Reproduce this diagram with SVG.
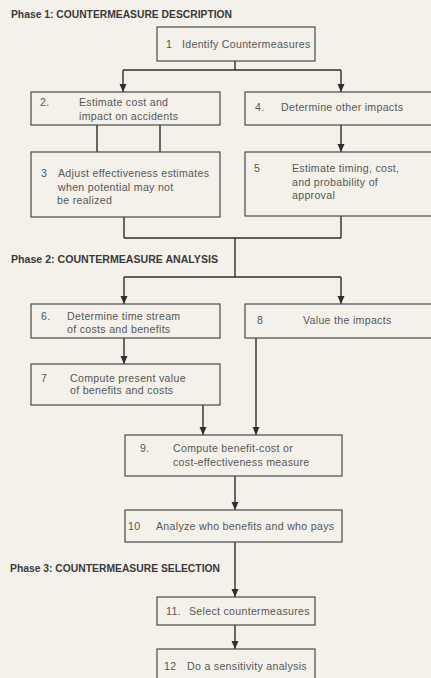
<svg xmlns="http://www.w3.org/2000/svg" width="431" height="678" viewBox="0 0 431 678">
<defs>
<marker id="ah" viewBox="0 0 8 10" refX="8" refY="5" markerWidth="8" markerHeight="10" markerUnits="userSpaceOnUse" orient="auto">
<path d="M0,1.5 L8,5 L0,8.5 Z" fill="#2e2e2e"/>
</marker>
<style>
.bg{fill:#f3f1ea}
.box{fill:none;stroke:#4a4a4a;stroke-width:1.2}
.ln{fill:none;stroke:#2e2e2e;stroke-width:1.4}
.t{font-family:"Liberation Sans",Arial,sans-serif;font-size:10.6px;letter-spacing:0.3px;fill:#575757}
.ph{font-family:"Liberation Sans",Arial,sans-serif;font-size:10px;font-weight:bold;fill:#3a3a3a}
</style>
</defs>
<rect class="bg" x="0" y="0" width="431" height="678"/>

<g id="labels">
<text class="ph" x="11" y="18" textLength="221" lengthAdjust="spacingAndGlyphs">Phase 1: COUNTERMEASURE DESCRIPTION</text>
<text class="ph" x="11" y="263" textLength="207" lengthAdjust="spacingAndGlyphs">Phase 2:  COUNTERMEASURE ANALYSIS</text>
<text class="ph" x="10" y="572" textLength="210" lengthAdjust="spacingAndGlyphs">Phase 3: COUNTERMEASURE SELECTION</text>
</g>

<g id="connectors">
<path class="ln" d="M235,61 V70 M123,70 H341"/>
<path class="ln" d="M123,70 V92" marker-end="url(#ah)"/>
<path class="ln" d="M341,70 V92" marker-end="url(#ah)"/>
<path class="ln" d="M97,125 V152 M160,125 V152"/>
<path class="ln" d="M341,125 V152" marker-end="url(#ah)"/>
<path class="ln" d="M124,217 V238 M341,216 V238 M124,238 H341 M235,238 V277 M124,277 H341"/>
<path class="ln" d="M124,277 V304" marker-end="url(#ah)"/>
<path class="ln" d="M341,277 V304" marker-end="url(#ah)"/>
<path class="ln" d="M124,338 V364" marker-end="url(#ah)"/>
<path class="ln" d="M203,405 V435" marker-end="url(#ah)"/>
<path class="ln" d="M256,338 V435" marker-end="url(#ah)"/>
<path class="ln" d="M235,476 V510" marker-end="url(#ah)"/>
<path class="ln" d="M235,542 V597" marker-end="url(#ah)"/>
<path class="ln" d="M235,625 V649" marker-end="url(#ah)"/>
</g>

<g id="n1">
<rect class="box" x="157" y="27" width="158" height="34"/>
<text class="t" y="47.5"><tspan x="166">1</tspan><tspan x="182">Identify Countermeasures</tspan></text>
</g>
<g id="n2">
<rect class="box" x="31" y="92" width="189" height="33"/>
<text class="t" y="105.5"><tspan x="40">2.</tspan><tspan x="79">Estimate cost and</tspan></text>
<text class="t" x="79" y="120">impact on accidents</text>
</g>
<g id="n4">
<rect class="box" x="245" y="92" width="200" height="33"/>
<text class="t" y="111"><tspan x="255">4.</tspan><tspan x="281">Determine other impacts</tspan></text>
</g>
<g id="n3">
<rect class="box" x="31" y="152" width="189" height="65"/>
<text class="t" y="177"><tspan x="41">3</tspan><tspan x="58">Adjust effectiveness estimates</tspan></text>
<text class="t" x="58" y="191">when potential may not</text>
<text class="t" x="57" y="204">be realized</text>
</g>
<g id="n5">
<rect class="box" x="245" y="152" width="200" height="64"/>
<text class="t" y="172"><tspan x="254">5</tspan><tspan x="292">Estimate timing, cost,</tspan></text>
<text class="t" x="292" y="186">and probability of</text>
<text class="t" x="292" y="199">approval</text>
</g>
<g id="n6">
<rect class="box" x="31" y="304" width="189" height="34"/>
<text class="t" y="320"><tspan x="41">6.</tspan><tspan x="67">Determine time stream</tspan></text>
<text class="t" x="67" y="333">of costs and benefits</text>
</g>
<g id="n8">
<rect class="box" x="245" y="304" width="200" height="34"/>
<text class="t" y="324"><tspan x="257">8</tspan><tspan x="303">Value the impacts</tspan></text>
</g>
<g id="n7">
<rect class="box" x="31" y="364" width="189" height="41"/>
<text class="t" y="382"><tspan x="41">7</tspan><tspan x="70">Compute present value</tspan></text>
<text class="t" x="70" y="394">of benefits and costs</text>
</g>
<g id="n9">
<rect class="box" x="125" y="435" width="217" height="41"/>
<text class="t" y="452"><tspan x="140">9.</tspan><tspan x="173">Compute benefit-cost or</tspan></text>
<text class="t" x="173" y="466">cost-effectiveness measure</text>
</g>
<g id="n10">
<rect class="box" x="125" y="510" width="217" height="32"/>
<text class="t" y="530"><tspan x="128">10</tspan><tspan x="156">Analyze who benefits and who pays</tspan></text>
</g>
<g id="n11">
<rect class="box" x="157" y="597" width="158" height="28"/>
<text class="t" y="615"><tspan x="166">11.</tspan><tspan x="189">Select countermeasures</tspan></text>
</g>
<g id="n12">
<rect class="box" x="157" y="649" width="158" height="40"/>
<text class="t" y="670"><tspan x="164">12</tspan><tspan x="187">Do a sensitivity analysis</tspan></text>
</g>
</svg>
